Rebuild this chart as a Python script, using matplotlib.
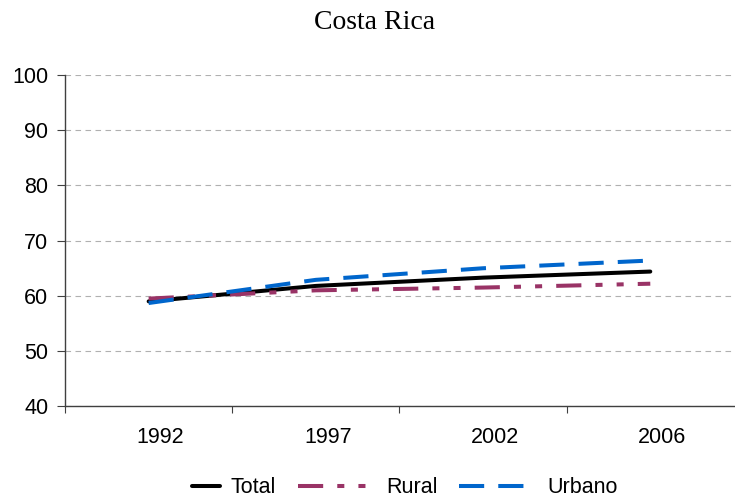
import matplotlib
matplotlib.use("Agg")
import numpy as np
import matplotlib.pyplot as plt
from matplotlib.ticker import FixedLocator, NullFormatter, FixedFormatter
from matplotlib.legend_handler import HandlerLine2D
import matplotlib.transforms as mtransforms

years = ["1992", "1997", "2002", "2006"]
total = [59.0, 61.8, 63.3, 64.4]
rural = [59.5, 61.0, 61.5, 62.2]
urbano = [58.7, 62.9, 65.0, 66.4]


class ShortLineHandler(HandlerLine2D):
    """Legend handler that draws only the right-hand part of the line sample."""

    def get_xdata(self, legend, xdescent, ydescent, width, height, fontsize):
        xd, xm = super().get_xdata(legend, xdescent, ydescent, width, height, fontsize)
        xd = np.array([xd[0] + 0.64 * (xd[-1] - xd[0]), xd[-1]])
        return xd, xm


fig = plt.figure(figsize=(7.35, 5.04), dpi=100)
ax = fig.add_axes([0.0885, 0.194, 0.910, 0.657])

x = list(range(len(years)))
lw = 2.9
l_total, = ax.plot(x, total, color="black", lw=lw, solid_capstyle="round", label="Total")
ax.plot(x, rural, color="#993366", lw=lw, dashes=(6.25, 3.5, 1.75, 3.5, 1.75, 3.5), label="Rural")
ax.plot(x, urbano, color="#0066CC", lw=lw, dashes=(6.25, 3.5), label="Urbano")

ax.set_xlim(-0.5, 3.5)
ax.set_ylim(40, 100)
ax.set_yticks(range(40, 101, 10))
ax.yaxis.grid(True, color="#b0b0b0", linestyle=(0, (5, 4)), lw=0.8)
ax.set_axisbelow(True)

# category boundaries carry the tick marks, labels sit at the centres
ax.xaxis.set_major_locator(FixedLocator([-0.5, 0.5, 1.5, 2.5]))
ax.xaxis.set_major_formatter(NullFormatter())
ax.xaxis.set_minor_locator(FixedLocator(x))
ax.xaxis.set_minor_formatter(FixedFormatter(years))
ax.tick_params(axis="x", which="major", length=5, color="#404040", direction="out")
ax.tick_params(axis="x", which="minor", length=0, pad=15, labelsize=15.5)
ax.tick_params(axis="y", length=6, color="#404040", labelsize=15.5, pad=6)
offset = mtransforms.ScaledTranslation(12 / 100, 0, fig.dpi_scale_trans)
for lab in ax.xaxis.get_minorticklabels():
    lab.set_transform(lab.get_transform() + offset)
    lab.set_fontfamily("Liberation Sans")
for lab in ax.get_yticklabels():
    lab.set_fontfamily("Liberation Sans")

for s in ("top", "right"):
    ax.spines[s].set_visible(False)
for s in ("left", "bottom"):
    ax.spines[s].set_color("#404040")
    ax.spines[s].set_linewidth(1.0)

fig.text(0.51, 0.955, "Costa Rica", ha="center", va="center",
         fontsize=20, family="Liberation Serif")

leg = fig.legend(loc="center", bbox_to_anchor=(0.517, 0.032), ncol=3, frameon=False,
                 prop={"family": "Liberation Sans", "size": 15.5},
                 handlelength=3.6, handletextpad=0.5, columnspacing=1.0,
                 handler_map={l_total: ShortLineHandler()})

fig.savefig("out.png", dpi=100)
